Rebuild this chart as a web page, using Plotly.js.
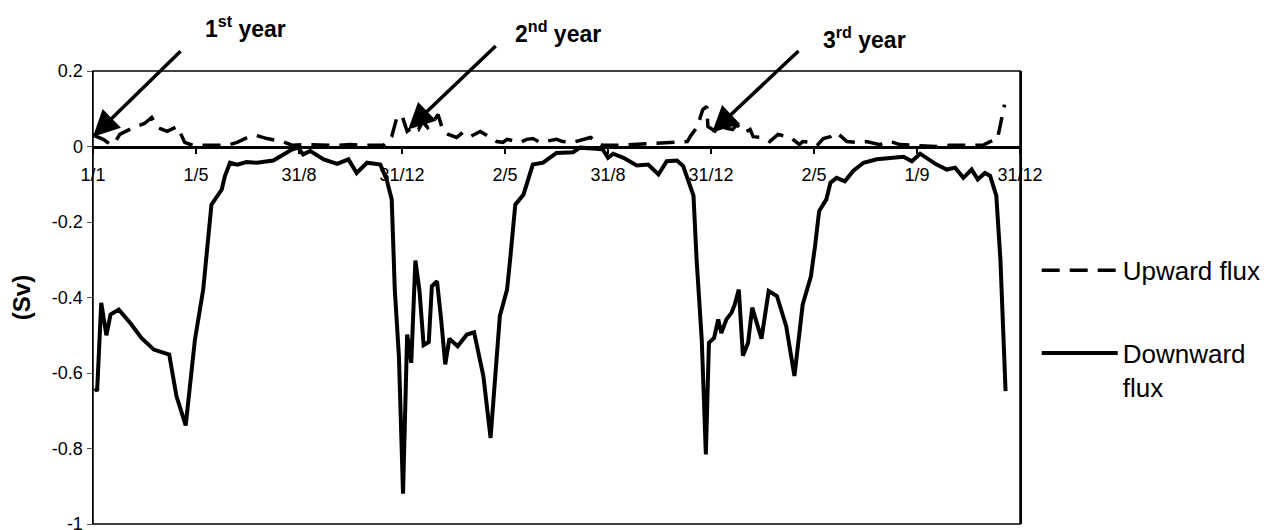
<!DOCTYPE html>
<html>
<head>
<meta charset="utf-8">
<script src="https://cdn.plot.ly/plotly-3.0.1.min.js"></script>
<style>html,body{margin:0;padding:0;background:#fff;}#chart{width:1278px;height:530px;}</style>
</head>
<body>
<div id="chart"></div>
<script>
// Tick labels (dates) along the 3-year time axis
var tickPositions = [0, 1, 2, 3, 4, 5, 6, 7, 8, 9];
var tickLabels = ["1/1", "1/5", "31/8", "31/12", "2/5", "31/8", "31/12", "2/5", "1/9", "31/12"];

var yTickVals = [0.2, 0, -0.2, -0.4, -0.6, -0.8, -1];
var yTickText = ["0.2", "0", "-0.2", "-0.4", "-0.6", "-0.8", "-1"];

// Upward flux (Sv)
var upT = [0.00, 0.10, 0.17, 0.21, 0.26, 0.39, 0.50, 0.57, 0.63, 0.72, 0.82, 0.89, 0.97, 1.09, 1.20, 1.30, 1.40, 1.50, 1.59, 1.69, 1.84, 1.94, 2.06, 2.20, 2.35, 2.50, 2.64, 2.82, 2.90, 2.95, 3.00,
           3.05, 3.11, 3.16, 3.20, 3.25, 3.30, 3.35, 3.40, 3.45, 3.53, 3.59, 3.66, 3.76, 3.85, 3.92, 3.98, 4.02, 4.15, 4.21, 4.27, 4.34, 4.50, 4.56, 4.66, 4.83, 4.89, 4.95, 5.09, 5.26, 5.41, 5.57, 5.70, 5.77, 5.80, 5.86, 5.89, 5.92,
           5.96, 5.97, 6.06, 6.12, 6.21, 6.25, 6.33, 6.38, 6.41, 6.50, 6.57, 6.65, 6.77, 6.86, 6.89, 6.96, 7.03, 7.09, 7.16, 7.22, 7.32, 7.42, 7.51, 7.64, 7.71, 7.77, 7.83, 8.00, 8.19, 8.32, 8.45, 8.64, 8.71, 8.78, 8.81, 8.85];
var upFlux = [0.030, 0.019, 0.005, 0.010, 0.032, 0.050, 0.061, 0.077, 0.050, 0.040, 0.053, 0.011, 0.003, 0.003, 0.005, 0.003, 0.011, 0.024, 0.029, 0.021, 0.013, 0.003, 0.005, 0.003, 0.003, 0.005, 0.003, 0.003, 0.026, 0.077, 0.082,
              0.040, 0.053, 0.045, 0.066, 0.050, 0.064, 0.085, 0.040, 0.032, 0.024, 0.037, 0.026, 0.040, 0.024, 0.013, 0.011, 0.019, 0.011, 0.019, 0.021, 0.011, 0.019, 0.013, 0.011, 0.024, 0.013, 0.003, 0.003, 0.005, 0.008, 0.011, 0.011, 0.013, 0.027, 0.050, 0.072, 0.098,
              0.106, 0.053, 0.037, 0.050, 0.045, 0.058, 0.037, 0.045, 0.026, 0.024, 0.013, 0.032, 0.024, 0.005, 0.013, 0.011, 0.003, 0.021, 0.026, 0.037, 0.013, 0.011, 0.013, 0.005, 0.013, 0.011, 0.005, 0.003, 0.000, 0.003, 0.003, 0.003, 0.013, 0.019, 0.058, 0.111];

// Downward flux (Sv)
var downT = [0.02, 0.04, 0.08, 0.13, 0.17, 0.25, 0.36, 0.47, 0.59, 0.74, 0.81, 0.90, 0.99, 1.07, 1.15, 1.25, 1.28, 1.33, 1.40, 1.49, 1.59, 1.75, 1.85, 1.93, 1.99, 2.04, 2.11, 2.24, 2.37, 2.48, 2.56, 2.66, 2.79, 2.85, 2.90, 2.93, 2.97,
             3.01, 3.05, 3.09, 3.13, 3.17, 3.21, 3.26, 3.29, 3.34, 3.38, 3.42, 3.46, 3.54, 3.63, 3.70, 3.79, 3.86, 3.95, 4.02, 4.05, 4.10, 4.18, 4.23, 4.27, 4.37, 4.44, 4.50, 4.66, 4.73, 4.89, 4.95, 5.00, 5.05, 5.15, 5.28, 5.39, 5.49, 5.57, 5.67, 5.73, 5.80, 5.83, 5.86, 5.91, 5.93,
             5.95, 5.98, 6.03, 6.07, 6.10, 6.15, 6.20, 6.23, 6.27, 6.31, 6.36, 6.40, 6.49, 6.56, 6.64, 6.73, 6.81, 6.89, 6.97, 7.01, 7.05, 7.12, 7.16, 7.22, 7.30, 7.38, 7.48, 7.61, 7.74, 7.87, 7.95, 8.03, 8.19, 8.29, 8.37, 8.45, 8.53, 8.59, 8.66, 8.71, 8.77, 8.81, 8.86];
var downFlux = [-0.640, -0.648, -0.414, -0.500, -0.445, -0.432, -0.467, -0.507, -0.538, -0.551, -0.661, -0.739, -0.511, -0.379, -0.154, -0.114, -0.079, -0.043, -0.048, -0.041, -0.043, -0.037, -0.021, -0.008, -0.003, -0.021, -0.012, -0.034, -0.046, -0.034, -0.070, -0.043, -0.048, -0.087, -0.140, -0.379, -0.555,
                -0.920, -0.498, -0.573, -0.302, -0.383, -0.526, -0.518, -0.370, -0.357, -0.458, -0.577, -0.509, -0.529, -0.498, -0.492, -0.608, -0.772, -0.449, -0.379, -0.299, -0.154, -0.127, -0.087, -0.048, -0.043, -0.030, -0.017, -0.015, -0.003, -0.006, -0.008, -0.030, -0.019, -0.030, -0.050, -0.048, -0.074, -0.039, -0.037, -0.052, -0.105, -0.130, -0.299, -0.511, -0.661,
                -0.816, -0.520, -0.507, -0.458, -0.494, -0.458, -0.440, -0.419, -0.379, -0.554, -0.520, -0.427, -0.509, -0.383, -0.396, -0.476, -0.608, -0.419, -0.344, -0.264, -0.171, -0.140, -0.096, -0.083, -0.092, -0.065, -0.043, -0.034, -0.030, -0.027, -0.039, -0.019, -0.048, -0.061, -0.056, -0.083, -0.061, -0.087, -0.070, -0.078, -0.130, -0.300, -0.648];

var FONT = "Liberation Sans, Arial, sans-serif";

var traces = [
  {x: upT, y: upFlux, type: "scatter", mode: "lines", name: "Upward flux", legendgroup: "u",
   line: {color: "#000", width: 3.5, dash: "18px,10px"}, hoverinfo: "skip"},
  {x: downT, y: downFlux, type: "scatter", mode: "lines", name: "Downward<br>flux", legendgroup: "d",
   line: {color: "#000", width: 4}, hoverinfo: "skip"}
];

function yearArrow(x, y, ax, ay) {
  return {x: x, y: y, xref: "x", yref: "y", text: "", showarrow: true, ax: ax, ay: ay,
          arrowhead: 2, arrowsize: 1.5, arrowwidth: 3.5, arrowcolor: "#000", standoff: 0};
}
function yearLabel(x, y, txt) {
  return {x: x, y: y, xref: "paper", yref: "paper", text: txt, showarrow: false,
          font: {family: FONT, size: 23, color: "#000"}, xanchor: "center", yanchor: "middle"};
}

var layout = {
  width: 1278, height: 530,
  margin: {l: 93, r: 258, t: 71, b: 6, pad: 0},
  paper_bgcolor: "#fff", plot_bgcolor: "#fff",
  font: {family: FONT, color: "#000"},
  showlegend: true,
  legend: {x: 1.018, y: 0.612, xanchor: "left", yanchor: "top", font: {family: FONT, size: 26, color: "#000"},
           itemwidth: 76, tracegroupgap: 46, valign: "top", traceorder: "grouped", bgcolor: "rgba(0,0,0,0)"},
  xaxis: {range: [0, 9], tickmode: "array", tickvals: tickPositions, ticktext: tickLabels,
          anchor: "free", position: 0.8333, showline: true, linecolor: "#000", linewidth: 3,
          ticks: "outside", ticklen: 5, tickwidth: 2.5, tickcolor: "#000", ticklabelstandoff: 6,
          tickfont: {family: FONT, size: 18, color: "#000"}, showgrid: false, zeroline: false,
          layer: "above traces", automargin: false, fixedrange: true},
  yaxis: {range: [-1, 0.2], tickmode: "array", tickvals: yTickVals, ticktext: yTickText,
          showline: true, linecolor: "#000", linewidth: 1.5, mirror: true,
          ticks: "outside", ticklen: 5, tickwidth: 1, tickcolor: "#555", ticklabeloverflow: "allow",
          tickfont: {family: FONT, size: 18, color: "#000"}, showgrid: false, zeroline: false,
          automargin: false, fixedrange: true,
          title: {text: "<b>(Sv)</b>", font: {family: FONT, size: 24, color: "#000"}, standoff: 14}},
  shapes: [
    {type: "rect", xref: "paper", yref: "paper", x0: 0, x1: 1, y0: 0, y1: 1, line: {color: "#000", width: 1.5}}
  ],
  annotations: [
    yearLabel(0.164, 1.097, "<b>1<sup>st</sup> year</b>"),
    yearLabel(0.502, 1.086, "<b>2<sup>nd</sup> year</b>"),
    yearLabel(0.832, 1.073, "<b>3<sup>rd</sup> year</b>"),
    yearArrow(0, 0.026, 89, -87),
    yearArrow(3.06, 0.045, 89, -85),
    yearArrow(6.01, 0.037, 88, -83)
  ]
};

Plotly.newPlot("chart", traces, layout, {staticPlot: true, displayModeBar: false});
</script>
</body>
</html>
